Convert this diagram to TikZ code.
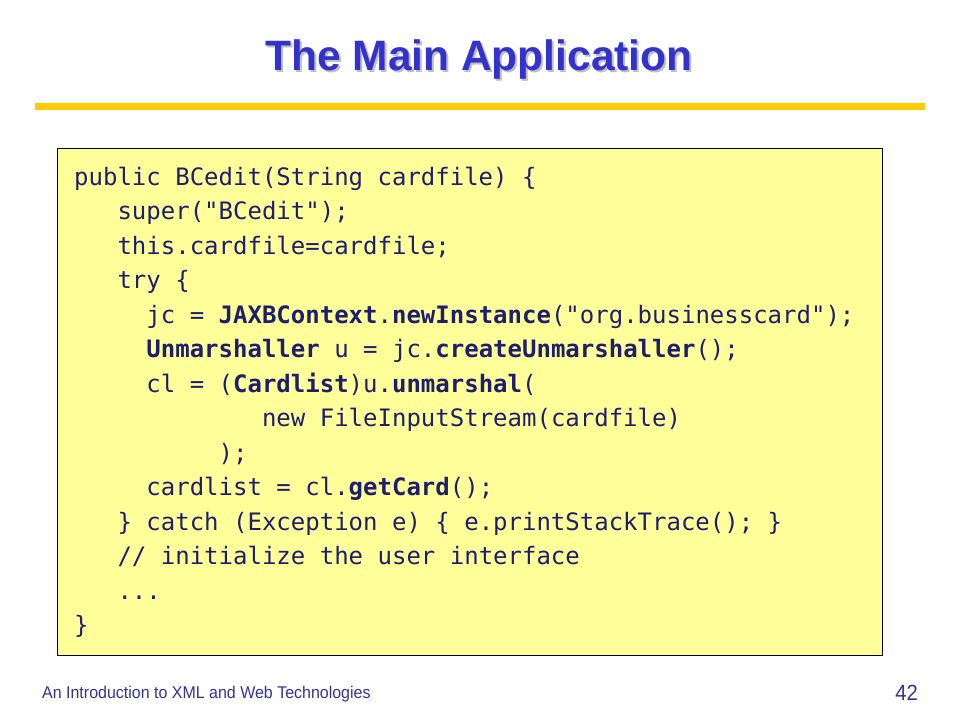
\documentclass[tikz,border=0pt]{standalone}
\usepackage{fontspec}
\setmainfont{Liberation Sans}
\setmonofont{DejaVu Sans Mono}
\definecolor{titleblue}{RGB}{51,51,204}
\definecolor{codeblue}{RGB}{30,30,110}
\definecolor{footblue}{RGB}{51,51,153}
\definecolor{rulegold}{RGB}{255,204,0}
\definecolor{boxyellow}{RGB}{255,255,153}
\tikzset{
  code/.style = {anchor=base west, inner sep=0pt, text=codeblue, font=\fontsize{24}{24}\selectfont\ttfamily},
  title/.style = {anchor=base, inner sep=0pt, text=titleblue, font=\fontsize{42.5}{42.5}\selectfont\bfseries}
}
\newcommand{\kw}[1]{\textbf{#1}}
\newcommand{\shadowed}[1]{\rlap{\hspace{2pt}\raisebox{-2pt}{\textcolor{black!25}{#1}}}#1}
\begin{document}
\begin{tikzpicture}[x=1pt,y=-1pt]
  \useasboundingbox[fill=white] (0,0) rectangle (960,720);
  % title
  \node[title] (title) at (479,70) {\shadowed{The Main Application}};
  \fill[rulegold] (35,103) rectangle (925,110);
  % code box
  \draw[fill=boxyellow, line width=1pt] (57,148) rectangle (882,655);
  \node[code] (l1) at (74,185) {public BCedit(String cardfile) \{};
  \node[code] (l2) at (74,219.5) {~~~super("BCedit");};
  \node[code] (l3) at (74,254) {~~~this.cardfile=cardfile;};
  \node[code] (l4) at (74,288.5) {~~~try \{};
  \node[code] (l5) at (74,323) {~~~~~jc = \kw{JAXBContext}.\kw{newInstance}("org.businesscard");};
  \node[code] (l6) at (74,357.5) {~~~~~\kw{Unmarshaller} u = jc.\kw{createUnmarshaller}();};
  \node[code] (l7) at (74,392) {~~~~~cl = (\kw{Cardlist})u.\kw{unmarshal}(};
  \node[code] (l8) at (74,426.5) {~~~~~~~~~~~~~new FileInputStream(cardfile)};
  \node[code] (l9) at (74,461) {~~~~~~~~~~);};
  \node[code] (l10) at (74,495.5) {~~~~~cardlist = cl.\kw{getCard}();};
  \node[code] (l11) at (74,530) {~~~\} catch (Exception e) \{ e.printStackTrace(); \}};
  \node[code] (l12) at (74,564.5) {~~~// initialize the user interface};
  \node[code] (l13) at (74,599) {~~~...};
  \node[code] (l14) at (74,633.5) {\}};
  % footer
  \node[anchor=base west, inner sep=0pt, text=footblue, font=\fontsize{17}{17}\selectfont, xscale=0.94] (foot) at (42,698) {An Introduction to XML and Web Technologies};
  \node[anchor=base east, inner sep=0pt, text=footblue, font=\fontsize{22}{22}\selectfont, xscale=0.92] (page) at (918,700) {42};
\end{tikzpicture}
\end{document}
